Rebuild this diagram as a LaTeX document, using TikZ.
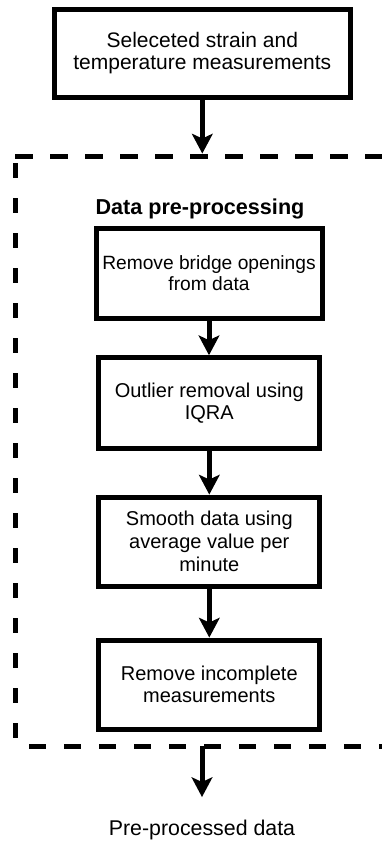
\documentclass[tikz,border=0pt]{standalone}
\usepackage{fontspec}
\setmainfont{Liberation Sans}
\usetikzlibrary{arrows.meta}
\begin{document}
\begin{tikzpicture}[x=0.75pt,y=-0.75pt,
  box/.style={draw=black,line width=3.75pt,inner sep=0pt,align=center,
    font=\fontsize{15}{17}\selectfont,minimum width=166pt,minimum height=67pt},
  flow/.style={line width=3.75pt,-{Stealth[length=15pt,width=16pt,inset=3.75pt,line width=0pt]}},
  frameline/.style={line width=3.75pt}]
\clip (0,0) rectangle (382,843);
\fill[white] (0,0) rectangle (382,843);
% dashed frame
\coordinate (ftl) at (15,156);
\coordinate (ftr) at (420,156);
\coordinate (flt) at (15.5,163);
\coordinate (flb) at (15.5,744);
\coordinate (fbl) at (29,746);
\coordinate (fbr) at (420,746);
\draw[frameline,dash pattern=on 13.5pt off 12.75pt] (ftl) -- (ftr);
\draw[frameline,dash pattern=on 11.25pt off 15pt] (flt) -- (flb);
\draw[frameline,dash pattern=on 12.75pt off 13.5pt] (fbl) -- (fbr);
% nodes
\node[box,minimum width=221.6pt,minimum height=66pt,font=\fontsize{15.75}{16.5}\selectfont] (b1) at (202.3,53) {Seleceted strain and\\temperature measurements};
\node[font=\bfseries\fontsize{16.2}{18}\selectfont] (title) at (200,209) {Data pre-processing};
\node[box,minimum width=169.5pt,minimum height=67.5pt,font=\fontsize{14.4}{16.2}\selectfont] (b2) at (209,273) {Remove bridge openings\\from data};
\node[box,minimum width=166pt,minimum height=68pt] (b3) at (209.3,403) {Outlier removal using\\IQRA};
\node[box,minimum width=166pt,minimum height=66.75pt] (b4) at (209.3,541.5) {Smooth data using\\average value per\\minute};
\node[box,minimum width=166pt,minimum height=66.75pt] (b5) at (209.3,684.5) {Remove incomplete\\measurements};
\node[font=\fontsize{16}{18}\selectfont] (out) at (202,830) {Pre-processed data};
% connectors
\coordinate (inTop) at (202.3,153.5);
\coordinate (outStart) at (202,746);
\coordinate (outEnd) at (202,797);
\draw[flow] (b1.south) -- (inTop);
\draw[flow] (b2.south) -- (b2.south |- b3.north);
\draw[flow] (b3.south) -- (b3.south |- b4.north);
\draw[flow] (b4.south) -- (b4.south |- b5.north);
\draw[flow] (outStart) -- (outEnd);
\end{tikzpicture}
\end{document}
